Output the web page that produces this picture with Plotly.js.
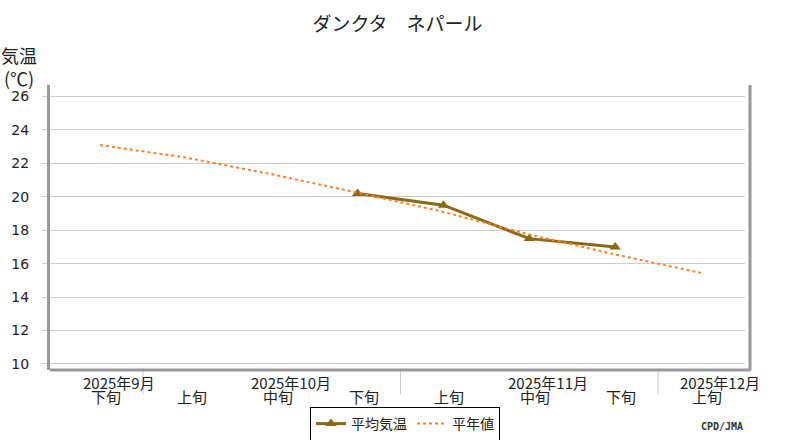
<!DOCTYPE html>
<html>
<head>
<meta charset="utf-8">
<script src="https://cdn.plot.ly/plotly-3.0.1.min.js"></script>
<style>html,body{margin:0;padding:0;background:#fff;}#chart{width:800px;height:440px;}</style>
</head>
<body>
<div id="chart"></div>
<script>
// ---- data ----
const dekadLabels = ['下旬','上旬','中旬','下旬','上旬','中旬','下旬','上旬'];
const monthOfDekad = ['2025年9月','2025年10月','2025年10月','2025年10月','2025年11月','2025年11月','2025年11月','2025年12月'];
const avgTemp = [null, null, null, 20.2, 19.5, 17.5, 17.0, null];
const normalTemp = [23.1, 22.35, 21.35, 20.25, 19.1, 17.75, 16.55, 15.45];
const yTicks = [10, 12, 14, 16, 18, 20, 22, 24, 26];
const chartTitle = 'ダンクタ　ネパール';
const seriesNames = ['平均気温', '平年値'];

const idx = dekadLabels.map((_, i) => i);
const JP = '"Noto Sans CJK JP", "DejaVu Sans", sans-serif';

// month groups
const groups = [];
monthOfDekad.forEach((m, i) => {
  if (!groups.length || groups[groups.length - 1].name !== m) groups.push({name: m, items: [i]});
  else groups[groups.length - 1].items.push(i);
});

const annotations = [];
dekadLabels.forEach((d, i) => annotations.push({
  x: i, xref: 'x', y: (370 - 396.5) / 285, yref: 'paper', text: d, showarrow: false,
  xanchor: 'center', yanchor: 'middle', xshift: 6, font: {family: JP, size: 15, color: '#222'}
}));
groups.forEach(g => {
  const c = g.items[Math.floor((g.items.length - 1) / 2)];
  annotations.push({
    x: c, xref: 'x', y: (370 - 382.5) / 285, yref: 'paper', text: g.name, showarrow: false,
    xanchor: 'center', yanchor: 'middle', xshift: 19, font: {family: JP, size: 15, color: '#222'}
  });
});
annotations.push({
  x: -50 / 695, xref: 'paper', y: 1 + (85 - 41) / 285, yref: 'paper', text: '気温<br>(℃)',
  showarrow: false, xanchor: 'left', yanchor: 'top', align: 'center', borderpad: 0,
  font: {family: JP, size: 18, color: '#222'}
});
annotations.push({
  x: 1, xref: 'paper', y: (370 - 426) / 285, yref: 'paper', text: '<b>CPD/JMA</b>',
  showarrow: false, xanchor: 'right', yanchor: 'middle',
  font: {family: '"DejaVu Sans Mono", monospace', size: 10, color: '#333'}
});

const shapes = [];
for (let k = 1; k < groups.length; k++) {
  const b = groups[k].items[0] - 0.5;
  shapes.push({type: 'line', xref: 'x', yref: 'paper', x0: b, x1: b, y0: 0, y1: -(394 - 370) / 285,
    line: {color: '#ccc', width: 1}});
}
shapes.push({type: 'line', xref: 'paper', yref: 'paper', x0: 1 + 5 / 695, x1: 1 + 5 / 695, y0: 0, y1: 1,
  line: {color: '#999', width: 3}});
shapes.push({type: 'line', xref: 'paper', yref: 'paper', x0: 0, x1: 1 + 6 / 695, y0: 0, y1: 0,
  line: {color: '#999', width: 3}});

const traces = [
  {x: idx, y: avgTemp, name: seriesNames[0], type: 'scatter', mode: 'lines+markers',
   line: {color: '#8B6914', width: 3}, marker: {symbol: 'triangle-up', size: 10, color: '#8B6914'},
   connectgaps: false},
  {x: idx, y: normalTemp, name: seriesNames[1], type: 'scatter', mode: 'lines',
   line: {color: '#FF7F27', width: 2, dash: '3px,3px'}}
];

const layout = {
  width: 800, height: 440,
  margin: {l: 50, r: 55, t: 85, b: 70},
  paper_bgcolor: '#fff', plot_bgcolor: '#fff',
  title: {text: chartTitle, x: 0.5, xref: 'paper', xanchor: 'center', y: 1 - 24 / 440, yanchor: 'middle',
    font: {family: JP, size: 19, color: '#222'}},
  xaxis: {range: [-0.582, 7.512], showgrid: false, zeroline: false, showticklabels: false, ticks: '',
    showline: false, fixedrange: true},
  yaxis: {range: [9.64, 26.69], tickvals: yTicks, ticktext: yTicks.map(String),
    showgrid: true, gridcolor: '#ccc', gridwidth: 1, zeroline: false,
    showline: true, linecolor: '#999', linewidth: 3,
    ticks: 'outside', ticklen: 5, tickcolor: '#ccc', ticklabelstandoff: 10,
    tickfont: {family: '"DejaVu Sans", sans-serif', size: 14, color: '#222'}},
  showlegend: true,
  legend: {orientation: 'h', x: (405 - 50) / 695, xref: 'paper', xanchor: 'center',
    y: 1 - 407 / 440, yref: 'container', yanchor: 'top',
    bordercolor: '#000', borderwidth: 1, bgcolor: '#fff',
    font: {family: JP, size: 14, color: '#222'}, itemwidth: 30, tracegroupgap: 0},
  annotations: annotations,
  shapes: shapes
};

Plotly.newPlot('chart', traces, layout, {displayModeBar: false, staticPlot: true});
</script>
</body>
</html>
